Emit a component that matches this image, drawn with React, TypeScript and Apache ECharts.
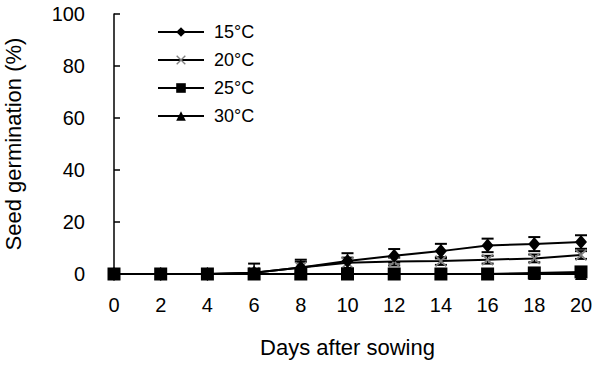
import React, { useEffect, useRef } from "react";
import * as echarts from "echarts";

const days = [0, 2, 4, 6, 8, 10, 12, 14, 16, 18, 20];
const seriesNames = ["15°C", "20°C", "25°C", "30°C"];
const g15 = [0, 0, 0, 0.5, 2.5, 5, 7, 8.8, 11, 11.5, 12.3];
const g20 = [0, 0, 0, 0.5, 2.5, 4.3, 4.8, 5, 5.5, 6, 7.3];
const g25 = [0, 0, 0, 0, 0, 0, 0, 0, 0, 0.4, 0.8];
const g30 = [0, 0, 0, 0, 0, 0, 0, 0, 0, 0, 0];
const e15 = [0, 0, 0, 3.5, 3, 3, 2.6, 2.8, 2.6, 2.7, 2.6];
const e20 = [0, 0, 0, 0, 2.2, 2, 1.5, 1.5, 1.5, 1.5, 1.5];
const yTicks = [0, 20, 40, 60, 80, 100];

const crossPath =
  "path://M1,0 L5,4 L9,0 L10,1 L6,5 L10,9 L9,10 L5,6 L1,10 L0,9 L4,5 L0,1 Z";

function errData(vals: number[], errs: number[]) {
  return days
    .map((d, i) => [d, vals[i], errs[i]])
    .filter((r) => r[2] > 0);
}

function errSeries(vals: number[], errs: number[]) {
  return {
    type: "custom",
    silent: true,
    z: 1,
    data: errData(vals, errs),
    renderItem: (params: any, api: any) => {
      const x = api.value(0);
      const v = api.value(1);
      const e = api.value(2);
      const top = api.coord([x, v + e]);
      const bot = api.coord([x, Math.max(0, v - e)]);
      const hw = 6;
      return {
        type: "group",
        children: [
          {
            type: "line",
            shape: { x1: top[0], y1: top[1], x2: bot[0], y2: bot[1] },
            style: { stroke: "#000", lineWidth: 1.5 },
          },
          {
            type: "line",
            shape: { x1: top[0] - hw, y1: top[1], x2: top[0] + hw, y2: top[1] },
            style: { stroke: "#000", lineWidth: 2 },
          },
          {
            type: "line",
            shape: { x1: bot[0] - hw, y1: bot[1], x2: bot[0] + hw, y2: bot[1] },
            style: { stroke: "#000", lineWidth: 2 },
          },
        ],
      };
    },
  };
}

export default function App() {
  const ref = useRef<HTMLDivElement>(null);
  useEffect(() => {
    if (!ref.current) return;
    const chart = echarts.init(ref.current, null, { renderer: "svg" });
    const font = "Arial, 'Liberation Sans', sans-serif";
    const mk = (vals: number[]) => vals.map((v, i) => [days[i], v]);
    chart.setOption({
      animation: false,
      backgroundColor: "#fff",
      textStyle: { fontFamily: font, color: "#000" },
      grid: {
        left: 114,
        right: 19,
        top: 14,
        bottom: 91,
        containLabel: false,
        outerBoundsMode: "none",
      },
      legend: {
        orient: "vertical",
        left: 152,
        top: 18,
        itemWidth: 46,
        itemHeight: 12,
        itemGap: 10,
        textStyle: { fontSize: 18, color: "#000", fontFamily: font, padding: [0, 0, 0, 5] },
        data: seriesNames,
      },
      xAxis: {
        type: "value",
        min: 0,
        max: 20,
        interval: 2,
        name: "Days after sowing",
        nameLocation: "middle",
        nameGap: 62,
        nameTextStyle: { fontSize: 22, color: "#000", fontFamily: font },
        axisLine: { show: true, lineStyle: { color: "#000", width: 1.5 } },
        axisTick: { show: false },
        axisLabel: { fontSize: 20, color: "#000", margin: 21, fontFamily: font },
        splitLine: { show: false },
      },
      yAxis: {
        type: "value",
        min: 0,
        max: 100,
        interval: 20,
        name: "Seed germination (%)",
        nameLocation: "middle",
        nameGap: 90,
        nameTextStyle: { fontSize: 22, color: "#000", fontFamily: font },
        axisLine: { show: true, lineStyle: { color: "#000", width: 1.5 } },
        axisTick: { show: true, inside: true, length: 6, lineStyle: { color: "#000", width: 1.5 } },
        axisLabel: {
          fontSize: 20,
          color: "#000",
          margin: 29,
          fontFamily: font,
          formatter: (v: number) => (yTicks.includes(v) ? String(v) : ""),
        },
        splitLine: { show: false },
      },
      series: [
        errSeries(g15, e15),
        errSeries(g20, e20),
        {
          name: seriesNames[0],
          type: "line",
          data: mk(g15),
          symbol: "diamond",
          symbolSize: [12, 14],
          z: 4,
          lineStyle: { color: "#000", width: 2 },
          itemStyle: { color: "#000" },
        },
        {
          name: seriesNames[1],
          type: "line",
          data: mk(g20),
          symbol: crossPath,
          symbolSize: 12,
          z: 3,
          lineStyle: { color: "#000", width: 2 },
          itemStyle: { color: "#808080" },
        },
        {
          name: seriesNames[2],
          type: "line",
          data: mk(g25),
          symbol: "rect",
          symbolSize: 13,
          z: 5,
          lineStyle: { color: "#000", width: 2 },
          itemStyle: { color: "#000" },
        },
        {
          name: seriesNames[3],
          type: "line",
          data: mk(g30),
          symbol: "triangle",
          symbolSize: 12,
          z: 2,
          lineStyle: { color: "#000", width: 2 },
          itemStyle: { color: "#000" },
        },
      ],
    });
    return () => chart.dispose();
  }, []);
  return <div ref={ref} style={{ width: 600, height: 365, position: "absolute", left: 0, top: 0 }} />;
}
